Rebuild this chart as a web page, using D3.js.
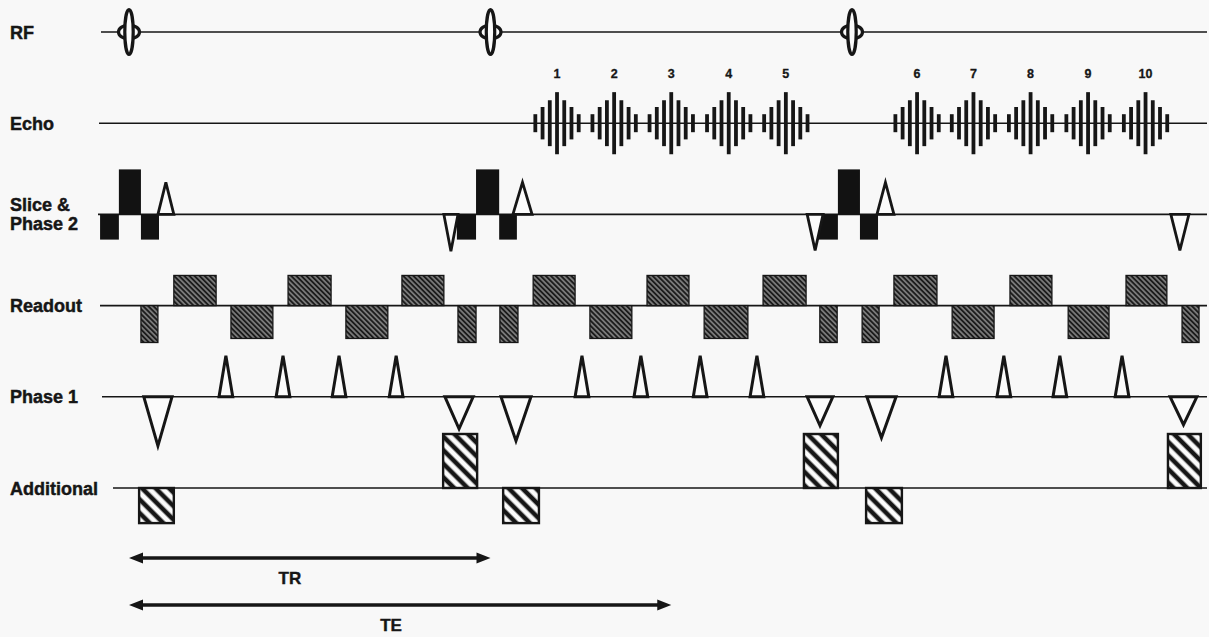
<!DOCTYPE html>
<html>
<head>
<meta charset="utf-8">
<script src="https://cdn.jsdelivr.net/npm/d3@7"></script>
<style>
body { margin: 0; background: #f8f8f8; }
svg { display: block; font-family: "Liberation Sans", Arial, sans-serif; font-weight: bold; }
</style>
</head>
<body>
<div id="view"></div>
<script>
// channels, top to bottom
var rows = ["RF", "Echo", "Slice", "Readout", "Phase1", "Additional"];
var rowLabels = [["RF"], ["Echo"], ["Slice &", "Phase 2"], ["Readout"], ["Phase 1"], ["Additional"]];

// time in units where TR = 100
var rfTimes = [0, 100, 200];
var echoTimes = [118.4, 134.2, 150.0, 165.9, 181.7, 218.0, 233.6, 249.4, 265.3, 281.2];
var echoLabels = ["1", "2", "3", "4", "5", "6", "7", "8", "9", "10"];
var echoOffsets = [-6, -4, -2, 0, 2, 4, 6];
var echoEnvelope = [0.2, 0.36, 0.51, 0.69, 0.51, 0.36, 0.2];

// gradient lobes: [start, end, amplitude]
var sliceLobes = [
  [-8.0, -2.8, -0.56], [-2.8, 3.3, 1], [3.3, 8.3, -0.56],
  [90.7, 96.0, -0.56], [96.0, 102.4, 1], [102.4, 107.3, -0.56],
  [190.6, 196.1, -0.56], [196.1, 202.2, 1], [202.2, 207.2, -0.56]
];
var sliceBlips = [
  [8.0, 12.4, 0.71], [87.1, 91.0, -0.82], [106.2, 111.5, 0.71],
  [187.6, 192.0, -0.8], [206.9, 211.6, 0.71], [288.2, 293.2, -0.8]
];
var readoutLobes = [
  [3.3, 8.0, -0.82], [12.4, 24.1, 0.67], [28.2, 39.8, -0.73], [44.0, 55.9, 0.67],
  [60.0, 71.6, -0.73], [75.5, 87.1, 0.67], [91.0, 96.0, -0.82],
  [102.6, 107.6, -0.82], [111.8, 123.4, 0.67], [127.5, 139.1, -0.73], [143.3, 154.9, 0.67],
  [159.1, 171.2, -0.73], [175.4, 187.3, 0.67], [191.1, 195.9, -0.82],
  [202.8, 207.5, -0.82], [211.6, 223.5, 0.67], [227.7, 239.3, -0.73], [243.7, 255.3, 0.67],
  [259.8, 271.1, -0.73], [275.8, 287.1, 0.67], [291.3, 296.0, -0.82]
];
var phase1Blips = [
  [4.1, 11.9, -1.09],
  [24.9, 28.7, 0.91], [40.7, 44.5, 0.91], [56.2, 60.0, 0.91], [72.0, 75.8, 0.91],
  [87.4, 95.2, -0.71], [102.9, 111.2, -0.98],
  [123.4, 127.2, 0.91], [139.7, 143.5, 0.91], [156.1, 159.9, 0.91], [171.8, 175.6, 0.91],
  [187.6, 194.7, -0.64], [204.1, 212.2, -0.91],
  [224.1, 227.9, 0.91], [240.1, 243.9, 0.91], [255.6, 259.4, 0.91], [272.8, 276.6, 0.91],
  [288.0, 295.4, -0.62]
];
var additionalLobes = [
  [2.8, 12.4, -0.78], [86.9, 96.3, 1.2], [103.5, 113.4, -0.78],
  [186.7, 196.1, 1.2], [203.9, 213.8, -0.78], [287.4, 296.5, 1.2]
];

// timing intervals
var intervalNames = ["TR", "TE"];
var intervalEnds = [100, 150];
var intervalLabelAt = [44.5, 72.5];

var W = 1209, H = 637;
var lineX0 = {RF: 101, Echo: 99, Slice: 98, Readout: 100, Phase1: 102, Additional: 113};
var lineX1 = 1207;
var ink = "#161616";
var paper = "#fbfbfb";

var svg = d3.select("#view").append("svg")
  .attr("width", W).attr("height", H);

var x = d3.scaleLinear().domain([0, 100]).range([129, 490.5]);
var y = d3.scalePoint().domain(rows).range([32, 488]);
var amp = d3.scaleLinear().domain([0, 1]).range([0, 45]);

// hatch patterns
var defs = svg.append("defs");
var fine = defs.append("pattern").attr("id", "fine")
  .attr("patternUnits", "userSpaceOnUse")
  .attr("width", 3.6).attr("height", 3.6)
  .attr("patternTransform", "rotate(-45)");
fine.append("rect").attr("width", 3.6).attr("height", 3.6).attr("fill", "#1c1c1c");
fine.append("line").attr("x1", 1.8).attr("x2", 1.8).attr("y1", 0).attr("y2", 3.6)
  .attr("stroke", "#e0e0e0").attr("stroke-width", 0.85);
var wide = defs.append("pattern").attr("id", "wide")
  .attr("patternUnits", "userSpaceOnUse")
  .attr("width", 9.6).attr("height", 9.6)
  .attr("patternTransform", "rotate(-45)");
wide.append("rect").attr("width", 9.6).attr("height", 9.6).attr("fill", paper);
wide.append("line").attr("x1", 4.8).attr("x2", 4.8).attr("y1", 0).attr("y2", 9.6)
  .attr("stroke", ink).attr("stroke-width", 4.6);

// row labels
function label(tx, yy, s) {
  svg.append("text").attr("x", 10).attr("y", yy).attr("font-size", 18)
    .attr("fill", ink).attr("stroke", ink).attr("stroke-width", 0.45).text(s);
}
rows.forEach(function(r, i) {
  var lines = rowLabels[i];
  if (lines.length == 1) {
    label(10, y(r) + 6.5, lines[0]);
  } else {
    label(10, y(r) - 3, lines[0]);
    label(10, y(r) + 16, lines[1]);
  }
});

// baselines
svg.selectAll("line.base").data(rows).enter().append("line")
  .attr("class", "base")
  .attr("x1", function(d) { return lineX0[d]; })
  .attr("x2", lineX1)
  .attr("y1", function(d) { return y(d); })
  .attr("y2", function(d) { return y(d); })
  .attr("stroke", ink).attr("stroke-width", 1.6);

// helpers
function lobeRect(sel, row) {
  var b = y(row);
  sel.attr("x", function(d) { return x(d[0]); })
    .attr("width", function(d) { return x(d[1]) - x(d[0]); })
    .attr("y", function(d) { return d[2] > 0 ? b - amp(d[2]) : b; })
    .attr("height", function(d) { return Math.abs(amp(d[2])); });
}
function triPoints(row) {
  var b = y(row);
  return function(d) {
    return [[x(d[0]), b], [x((d[0] + d[1]) / 2), b - amp(d[2])], [x(d[1]), b]].join(" ");
  };
}

// RF pulses
var rf = svg.selectAll("g.rf").data(rfTimes).enter().append("g")
  .attr("transform", function(d) { return "translate(" + x(d) + "," + y("RF") + ")"; });
rf.append("ellipse").attr("rx", 10.5).attr("ry", 7)
  .attr("fill", paper).attr("stroke", ink).attr("stroke-width", 3.2);
rf.append("ellipse").attr("rx", 4.2).attr("ry", amp(0.5))
  .attr("fill", paper).attr("stroke", ink).attr("stroke-width", 3.2);

// echoes
var echo = svg.selectAll("g.echo").data(echoTimes).enter().append("g").attr("class", "echo");
echo.selectAll("rect").data(function(t) {
    return echoOffsets.map(function(o, k) { return [t + o, echoEnvelope[k]]; });
  }).enter().append("rect")
  .attr("x", function(d) { return x(d[0]) - 1.9; })
  .attr("width", 3.8)
  .attr("y", function(d) { return y("Echo") - amp(d[1]); })
  .attr("height", function(d) { return 2 * amp(d[1]); })
  .attr("fill", ink);
svg.selectAll("text.echo").data(echoTimes).enter().append("text")
  .attr("class", "echo")
  .attr("x", function(d) { return x(d); })
  .attr("y", 78)
  .attr("text-anchor", "middle").attr("font-size", 12.5).attr("fill", ink)
  .attr("stroke", ink).attr("stroke-width", 0.3)
  .text(function(d, i) { return echoLabels[i]; });

// slice & phase 2
svg.selectAll("rect.slice").data(sliceLobes).enter().append("rect")
  .attr("class", "slice").call(lobeRect, "Slice").attr("fill", "#121212");
svg.selectAll("polygon.slice").data(sliceBlips).enter().append("polygon")
  .attr("class", "slice").attr("points", triPoints("Slice"))
  .attr("fill", paper).attr("stroke", ink).attr("stroke-width", 2.8);

// readout
svg.selectAll("rect.readout").data(readoutLobes).enter().append("rect")
  .attr("class", "readout").call(lobeRect, "Readout")
  .attr("fill", "url(#fine)").attr("stroke", ink).attr("stroke-width", 1.3);

// phase 1
svg.selectAll("polygon.phase").data(phase1Blips).enter().append("polygon")
  .attr("class", "phase").attr("points", triPoints("Phase1"))
  .attr("fill", paper).attr("stroke", ink).attr("stroke-width", 3);

// additional
svg.selectAll("rect.add").data(additionalLobes).enter().append("rect")
  .attr("class", "add").call(lobeRect, "Additional")
  .attr("fill", "url(#wide)").attr("stroke", ink).attr("stroke-width", 2.4);

// TR / TE arrows
var arrowY = [558, 605];
intervalNames.forEach(function(n, i) {
  var x0 = x(0), x1 = x(intervalEnds[i]), yy = arrowY[i];
  svg.append("line").attr("x1", x0 + 8).attr("x2", x1 - 8)
    .attr("y1", yy).attr("y2", yy).attr("stroke", ink).attr("stroke-width", 3.4);
  svg.append("path")
    .attr("d", "M" + x0 + "," + yy + "l14,-5.5l0,11z M" + x1 + "," + yy + "l-14,-5.5l0,11z")
    .attr("fill", ink);
  svg.append("text").attr("x", x(intervalLabelAt[i])).attr("y", yy + 26)
    .attr("text-anchor", "middle").attr("font-size", 17).attr("fill", ink)
    .attr("stroke", ink).attr("stroke-width", 0.4).text(n);
});
</script>
</body>
</html>
